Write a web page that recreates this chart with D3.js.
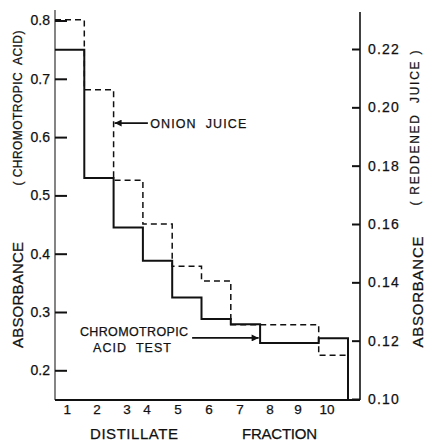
<html>
<head>
<script src="https://cdnjs.cloudflare.com/ajax/libs/d3/7.8.5/d3.min.js"></script>
<style>
body { margin: 0; background: #fff; }
svg { font-family: "Liberation Sans", Arial, sans-serif; }
svg text { stroke: #111; stroke-width: 0.25px; white-space: pre; }
</style>
</head>
<body>
<div id="chart"></div>
<script>
// distillate fractions 1..10
var fractions = [1, 2, 3, 4, 5, 6, 7, 8, 9, 10];
// absorbance, chromotropic acid test (left axis)
var chromotropic = [0.75, 0.53, 0.445, 0.388, 0.325, 0.288, 0.279, 0.247, 0.247, 0.255];
// absorbance, reddened onion juice (right axis)
var onionJuice = [0.230, 0.206, 0.175, 0.160, 0.1455, 0.1405, 0.1255, 0.1255, 0.1255, 0.115];

var leftTicks = [0.2, 0.3, 0.4, 0.5, 0.6, 0.7, 0.8];
var rightTicks = [0.10, 0.12, 0.14, 0.16, 0.18, 0.20, 0.22];
// where the hand-lettered fraction numbers sit, in fraction widths from the left axis
var fractionLabelPos = [0.42, 1.43, 2.46, 3.14, 4.2, 5.26, 6.31, 7.34, 8.29, 9.28];

var W = 426, H = 444;
var svg = d3.select("#chart").append("svg")
	.attr("width", W)
	.attr("height", H);

var x = d3.scaleLinear().domain([0, 10]).range([55, 348]);
var yL = d3.scaleLinear().domain([0.2, 0.8]).range([370.3, 20.5]);
var yR = d3.scaleLinear().domain([0.10, 0.22]).range([399, 49]);
var baseY = 400;

svg.append("defs").append("marker")
	.attr("id", "head")
	.attr("viewBox", "0 0 10 10")
	.attr("refX", 10).attr("refY", 5)
	.attr("markerWidth", 9).attr("markerHeight", 7)
	.attr("markerUnits", "userSpaceOnUse")
	.attr("orient", "auto")
	.append("path")
	.attr("d", "M0,0 L10,5 L0,10 Z")
	.attr("fill", "#111");

// axis frame lines
svg.append("line").attr("x1", 55).attr("x2", 55).attr("y1", 10).attr("y2", baseY)
	.attr("stroke", "#333").attr("stroke-width", 1.2);
svg.append("line").attr("x1", 360).attr("x2", 360).attr("y1", 12).attr("y2", baseY)
	.attr("stroke", "#111").attr("stroke-width", 1.6);
svg.append("line").attr("x1", 55).attr("x2", 360).attr("y1", baseY).attr("y2", baseY)
	.attr("stroke", "#111").attr("stroke-width", 2.2);

// left axis, ticks pointing inward
var gL = svg.append("g").attr("transform", "translate(55,0)")
	.call(d3.axisLeft(yL).tickValues(leftTicks).tickFormat(d3.format(".1f"))
		.tickSizeInner(-12).tickSizeOuter(0).tickPadding(5));
gL.select(".domain").remove();
gL.selectAll(".tick line").attr("stroke", "#111").attr("stroke-width", 2);
gL.selectAll(".tick text").attr("font-size", 14).attr("fill", "#111")
	.attr("font-family", "Liberation Sans, Arial, sans-serif");

// right axis, ticks pointing inward
var gR = svg.append("g").attr("transform", "translate(360,0)")
	.call(d3.axisRight(yR).tickValues(rightTicks).tickFormat(d3.format(".2f"))
		.tickSizeInner(-8).tickSizeOuter(0).tickPadding(8));
gR.select(".domain").remove();
gR.selectAll(".tick line").attr("stroke", "#111").attr("stroke-width", 2);
gR.selectAll(".tick text").attr("font-size", 14).attr("fill", "#111")
	.attr("letter-spacing", 1.2)
	.attr("font-family", "Liberation Sans, Arial, sans-serif");

// fraction numbers
svg.selectAll(".frac")
	.data(fractions)
	.enter().append("text")
	.attr("class", "frac")
	.attr("x", function(d, i) { return x(fractionLabelPos[i]); })
	.attr("y", 414)
	.attr("text-anchor", "middle")
	.attr("font-size", 13.5)
	.attr("fill", "#111")
	.text(function(d) { return d; });

// step lines
function stepPoints(vals) {
	var pts = vals.map(function(v, i) { return [i, v]; });
	pts.push([vals.length, vals[vals.length - 1]]);
	return pts;
}

var lineL = d3.line()
	.x(function(d) { return x(d[0]); })
	.y(function(d) { return yL(d[1]); })
	.curve(d3.curveStepAfter);
var lineR = d3.line()
	.x(function(d) { return x(d[0]); })
	.y(function(d) { return yR(d[1]); })
	.curve(d3.curveStepAfter);

var solidPts = stepPoints(chromotropic);
solidPts.push([10, yL.invert(baseY)]);

svg.append("path")
	.attr("d", lineR(stepPoints(onionJuice)))
	.attr("fill", "none")
	.attr("stroke", "#111")
	.attr("stroke-width", 1.5)
	.attr("stroke-dasharray", "6,4");

svg.append("path")
	.attr("d", lineL(solidPts))
	.attr("fill", "none")
	.attr("stroke", "#111")
	.attr("stroke-width", 2);

// annotations
svg.append("line")
	.attr("x1", x(3.17)).attr("x2", x(2) + 1)
	.attr("y1", yR(0.1946)).attr("y2", yR(0.1946))
	.attr("stroke", "#111").attr("stroke-width", 1.8)
	.attr("marker-end", "url(#head)");
svg.append("text")
	.attr("x", x(3.25)).attr("y", yR(0.1946) + 5)
	.attr("font-size", 12.5).attr("fill", "#111")
	.attr("textLength", 96).attr("lengthAdjust", "spacing")
	.text("ONION  JUICE");

svg.append("line")
	.attr("x1", x(4.68)).attr("x2", x(6.95))
	.attr("y1", yL(0.2555)).attr("y2", yL(0.2555))
	.attr("stroke", "#111").attr("stroke-width", 1.8)
	.attr("marker-end", "url(#head)");
svg.append("text")
	.attr("x", 134).attr("y", 336)
	.attr("text-anchor", "middle")
	.attr("font-size", 12.5).attr("fill", "#111")
	.attr("textLength", 108).attr("lengthAdjust", "spacing")
	.text("CHROMOTROPIC");
svg.append("text")
	.attr("x", 132).attr("y", 352)
	.attr("text-anchor", "middle")
	.attr("font-size", 12.5).attr("fill", "#111")
	.attr("textLength", 78).attr("lengthAdjust", "spacing")
	.text("ACID  TEST");

// axis titles
svg.append("text")
	.attr("x", 90).attr("y", 439)
	.attr("font-size", 15).attr("fill", "#111")
	.attr("textLength", 88).attr("lengthAdjust", "spacing")
	.text("DISTILLATE");
svg.append("text")
	.attr("x", 242).attr("y", 439)
	.attr("font-size", 15).attr("fill", "#111")
	.attr("textLength", 75).attr("lengthAdjust", "spacing")
	.text("FRACTION");

function vtext(cx, cy, size, len, str) {
	svg.append("text")
		.attr("transform", "translate(" + cx + "," + cy + ") rotate(-90)")
		.attr("text-anchor", "middle")
		.attr("font-size", size).attr("fill", "#111")
		.attr("textLength", len).attr("lengthAdjust", "spacing")
		.text(str);
}
vtext(23, 295, 15, 106, "ABSORBANCE");
vtext(22, 108, 12, 155, "( CHROMOTROPIC  ACID)");
vtext(423, 292, 15, 111, "ABSORBANCE");
vtext(419, 128, 12, 155, "( REDDENED  JUICE )");
</script>
</body>
</html>
